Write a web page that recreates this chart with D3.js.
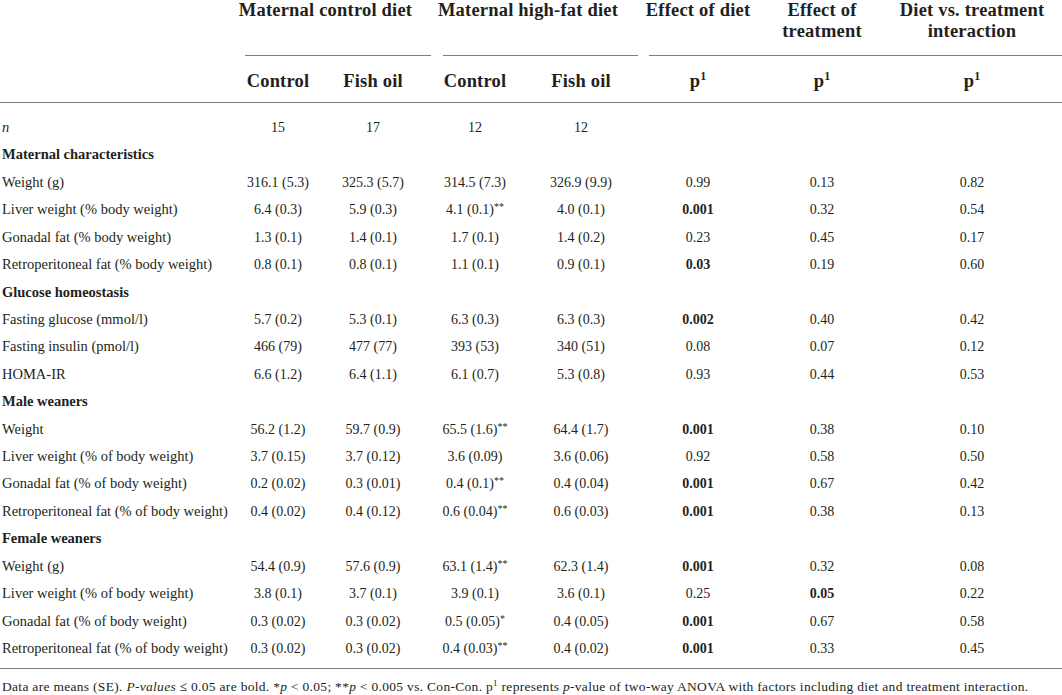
<!DOCTYPE html>
<html>
<head>
<meta charset="utf-8">
<script src="https://cdn.jsdelivr.net/npm/d3@7"></script>
<style>
  body { margin: 0; background: #fff; }
  svg text { font-family: "Liberation Serif", "DejaVu Serif", serif; fill: #231f20; }
</style>
</head>
<body>
<div id="table"></div>
<script>
// row labels (top to bottom)
const rowLabels = [
    "n",
    "Maternal characteristics",
    "Weight (g)",
    "Liver weight (% body weight)",
    "Gonadal fat (% body weight)",
    "Retroperitoneal fat (% body weight)",
    "Glucose homeostasis",
    "Fasting glucose (mmol/l)",
    "Fasting insulin (pmol/l)",
    "HOMA-IR",
    "Male weaners",
    "Weight",
    "Liver weight (% of body weight)",
    "Gonadal fat (% of body weight)",
    "Retroperitoneal fat (% of body weight)",
    "Female weaners",
    "Weight (g)",
    "Liver weight (% of body weight)",
    "Gonadal fat (% of body weight)",
    "Retroperitoneal fat (% of body weight)"
];

const sections = ["Maternal characteristics", "Glucose homeostasis", "Male weaners", "Female weaners"];

// mean (SE) per group, stars = vs. Con-Con
const conControl = ["15", null, "316.1 (5.3)", "6.4 (0.3)", "1.3 (0.1)", "0.8 (0.1)", null, "5.7 (0.2)", "466 (79)", "6.6 (1.2)", null, "56.2 (1.2)", "3.7 (0.15)", "0.2 (0.02)", "0.4 (0.02)", null, "54.4 (0.9)", "3.8 (0.1)", "0.3 (0.02)", "0.3 (0.02)"];
const conFishOil = ["17", null, "325.3 (5.7)", "5.9 (0.3)", "1.4 (0.1)", "0.8 (0.1)", null, "5.3 (0.1)", "477 (77)", "6.4 (1.1)", null, "59.7 (0.9)", "3.7 (0.12)", "0.3 (0.01)", "0.4 (0.12)", null, "57.6 (0.9)", "3.7 (0.1)", "0.3 (0.02)", "0.3 (0.02)"];
const hfControl = ["12", null, "314.5 (7.3)", "4.1 (0.1)**", "1.7 (0.1)", "1.1 (0.1)", null, "6.3 (0.3)", "393 (53)", "6.1 (0.7)", null, "65.5 (1.6)**", "3.6 (0.09)", "0.4 (0.1)**", "0.6 (0.04)**", null, "63.1 (1.4)**", "3.9 (0.1)", "0.5 (0.05)*", "0.4 (0.03)**"];
const hfFishOil = ["12", null, "326.9 (9.9)", "4.0 (0.1)", "1.4 (0.2)", "0.9 (0.1)", null, "6.3 (0.3)", "340 (51)", "5.3 (0.8)", null, "64.4 (1.7)", "3.6 (0.06)", "0.4 (0.04)", "0.6 (0.03)", null, "62.3 (1.4)", "3.6 (0.1)", "0.4 (0.05)", "0.4 (0.02)"];

// p-values of the two-way ANOVA
const pDiet = [null, null, "0.99", "0.001", "0.23", "0.03", null, "0.002", "0.08", "0.93", null, "0.001", "0.92", "0.001", "0.001", null, "0.001", "0.25", "0.001", "0.001"];
const pTreatment = [null, null, "0.13", "0.32", "0.45", "0.19", null, "0.40", "0.07", "0.44", null, "0.38", "0.58", "0.67", "0.38", null, "0.32", "0.05", "0.67", "0.33"];
const pInteraction = [null, null, "0.82", "0.54", "0.17", "0.60", null, "0.42", "0.12", "0.53", null, "0.10", "0.50", "0.42", "0.13", null, "0.08", "0.22", "0.58", "0.45"];

const groupHeaders = ["Maternal control diet", "Maternal high-fat diet"];
const subHeaders = ["Control", "Fish oil", "Control", "Fish oil"];
const pHeaders = [["Effect of diet"], ["Effect of", "treatment"], ["Diet vs. treatment", "interaction"]];

const width = 1062, height = 695;

const columns = [conControl, conFishOil, hfControl, hfFishOil];
const pColumns = [pDiet, pTreatment, pInteraction];

const xCol = d3.scaleOrdinal().domain(d3.range(7)).range([278, 373, 475, 581, 698, 822, 972]);
const yRow = d3.scaleLinear().domain([0, rowLabels.length - 1]).range([127, 648]);

const headSize = 18.5, headSpacing = 0.2;

const svg = d3.select('#table')
    .append('svg')
        .attr('width', width)
        .attr('height', height);

const rule = (x1, x2, y) => svg.append('line')
    .attr('x1', x1).attr('x2', x2)
    .attr('y1', y + 0.5).attr('y2', y + 0.5)
    .attr('stroke', '#7f7f7f')
    .attr('stroke-width', 1);

// header rules
rule(245, 431, 55);
rule(443, 638, 55);
rule(649, width, 55);
rule(0, width, 102);
rule(0, width, 668);

// header line 1
svg.selectAll('.group-head')
    .data(groupHeaders).enter()
    .append('text')
        .attr('class', 'group-head')
        .attr('x', (d, i) => (xCol(i * 2) + xCol(i * 2 + 1)) / 2)
        .attr('y', 16)
        .attr('text-anchor', 'middle')
        .attr('font-size', headSize)
        .attr('letter-spacing', headSpacing)
        .attr('font-weight', 'bold')
        .text(d => d);

pHeaders.forEach((lines, i) => {
    const t = svg.append('text')
        .attr('x', xCol(4 + i))
        .attr('y', 16)
        .attr('text-anchor', 'middle')
        .attr('font-size', headSize)
        .attr('letter-spacing', headSpacing)
        .attr('font-weight', 'bold');
    lines.forEach((l, j) => {
        t.append('tspan')
            .attr('x', xCol(4 + i))
            .attr('dy', j === 0 ? 0 : 21)
            .text(l);
    });
});

// header line 2
svg.selectAll('.sub-head')
    .data(subHeaders).enter()
    .append('text')
        .attr('class', 'sub-head')
        .attr('x', (d, i) => xCol(i))
        .attr('y', 87)
        .attr('text-anchor', 'middle')
        .attr('font-size', headSize)
        .attr('letter-spacing', headSpacing)
        .attr('font-weight', 'bold')
        .text(d => d);

pColumns.forEach((col, i) => {
    const t = svg.append('text')
        .attr('x', xCol(4 + i))
        .attr('y', 87)
        .attr('text-anchor', 'middle')
        .attr('font-size', headSize)
        .attr('font-weight', 'bold');
    t.append('tspan').text('p');
    t.append('tspan')
        .attr('font-size', 12)
        .attr('dy', -7)
        .text('1');
});

// row labels
svg.selectAll('.row-label')
    .data(rowLabels).enter()
    .append('text')
        .attr('class', 'row-label')
        .attr('x', 2)
        .attr('y', (d, i) => yRow(i) + 5)
        .attr('font-size', 14.5)
        .attr('font-weight', d => sections.includes(d) ? 'bold' : 'normal')
        .attr('font-style', (d, i) => i === 0 ? 'italic' : 'normal')
        .text(d => d);

// group values
columns.forEach((col, c) => {
    col.forEach((v, r) => {
        if (v == null) return;
        const m = v.match(/^(.*?)(\**)$/);
        const t = svg.append('text')
            .attr('x', xCol(c))
            .attr('y', yRow(r) + 5)
            .attr('text-anchor', 'middle')
            .attr('font-size', 14);
        t.append('tspan').text(m[1]);
        if (m[2]) {
            t.append('tspan')
                .attr('font-size', 10)
                .attr('dy', -4)
                .text(m[2]);
        }
    });
});

// p values, bold when <= 0.05
pColumns.forEach((col, c) => {
    svg.selectAll(null)
        .data(col.map((v, r) => ({ v, r })).filter(d => d.v != null)).enter()
        .append('text')
            .attr('x', xCol(4 + c))
            .attr('y', d => yRow(d.r) + 5)
            .attr('text-anchor', 'middle')
            .attr('font-size', 14)
            .attr('font-weight', d => +d.v <= 0.05 ? 'bold' : 'normal')
            .text(d => d.v);
});

// footnote
const note = svg.append('text')
    .attr('x', 2)
    .attr('y', 691)
    .attr('font-size', 13.5)
    .attr('letter-spacing', 0.3);
const parts = [
    ['Data are means (SE). ', 'normal'],
    ['P-values', 'italic'],
    [' \u2264 0.05 are bold. *', 'normal'],
    ['p', 'italic'],
    [' < 0.05; **', 'normal'],
    ['p', 'italic'],
    [' < 0.005 vs. Con-Con. p', 'normal'],
    ['1', 'sup'],
    [' represents ', 'normal'],
    ['p', 'italic'],
    ['-value of two-way ANOVA with factors including diet and treatment interaction.', 'normal']
];
parts.forEach(([s, style]) => {
    const ts = note.append('tspan').text(s);
    if (style === 'italic') ts.attr('font-style', 'italic');
    if (style === 'sup') ts.attr('font-size', 9).attr('dy', -5);
    else if (style === 'normal' && s.startsWith(' represents')) ts.attr('dy', 5);
});
</script>
</body>
</html>
